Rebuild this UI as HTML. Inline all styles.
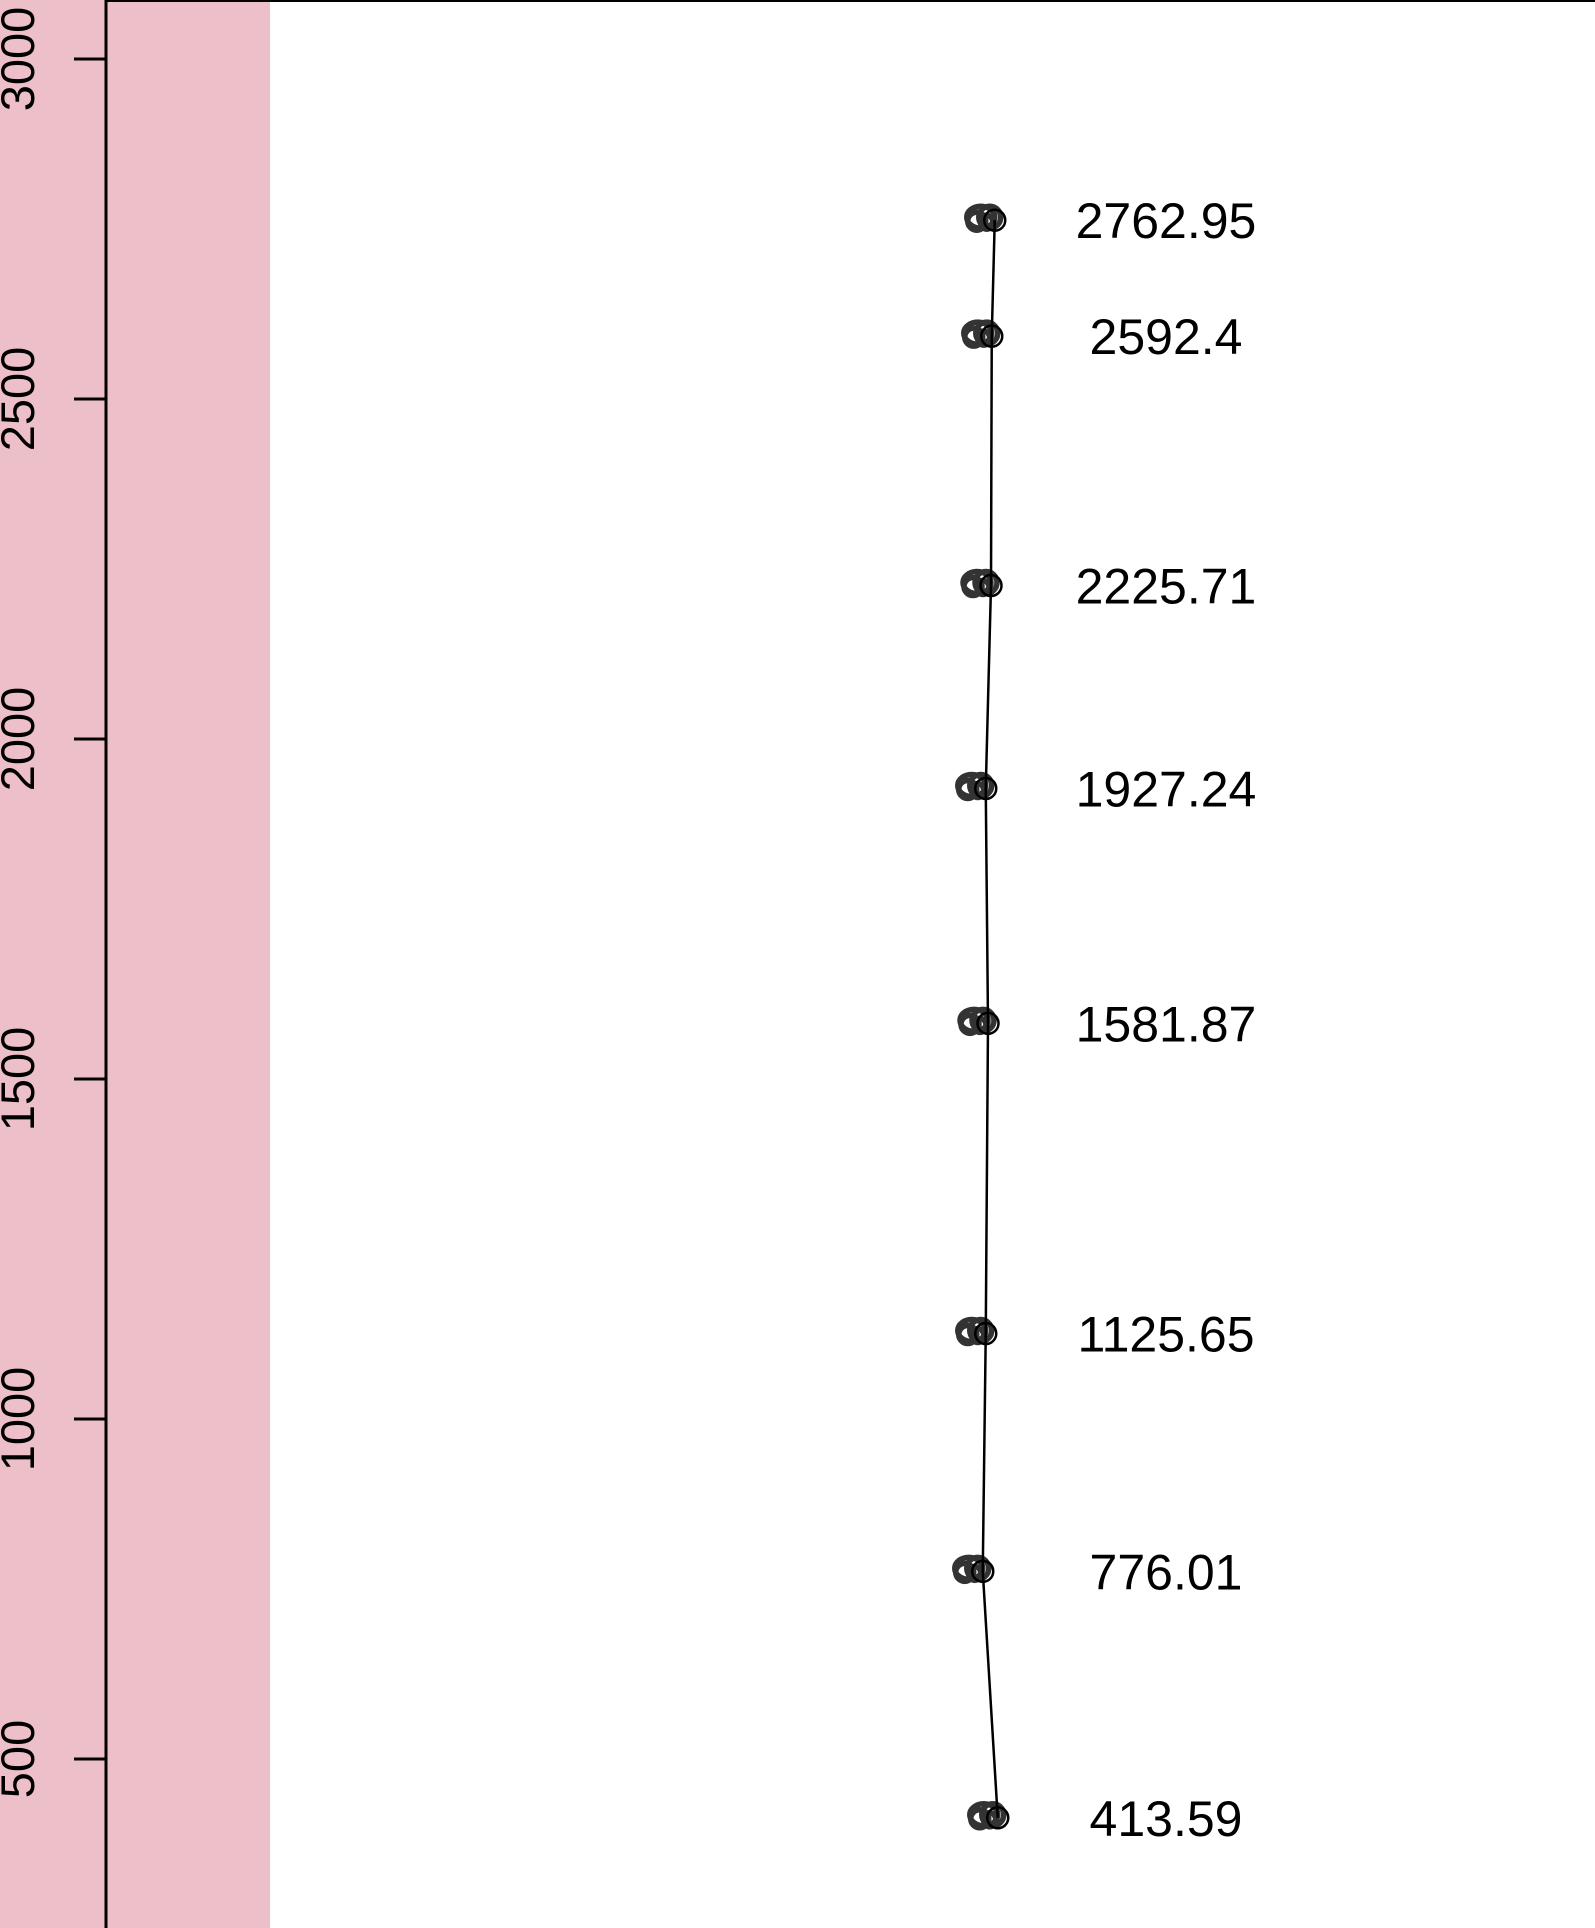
<!DOCTYPE html>
<html><head><meta charset="utf-8"><style>
html,body{margin:0;padding:0;background:#fff;}
svg{display:block;font-family:"Liberation Sans",Arial,sans-serif;}
</style></head><body>
<svg id="chart" width="1595" height="1928" viewBox="0 0 1595 1928">
  <rect x="0" y="0" width="270" height="1928" fill="#EDBFC9"/>
  <line x1="106" y1="1" x2="1595" y2="1" stroke="#000" stroke-width="2"/>
  <line x1="106" y1="0" x2="106" y2="1928" stroke="#000" stroke-width="3"/>
  <g id="yaxis"></g>
  <g id="blobs"></g>
  <path id="series-line" fill="none" stroke="#000" stroke-width="2.5"/>
  <g id="points"></g>
  <g id="labels"></g>
</svg>
<script>
const yValues = [2762.95, 2592.4, 2225.71, 1927.24, 1581.87, 1125.65, 776.01, 413.59];
const xValues = [59.25, 59.05, 59.0, 58.65, 58.8, 58.65, 58.45, 59.45];
const valueLabels = ["2762.95", "2592.4", "2225.71", "1927.24", "1581.87", "1125.65", "776.01", "413.59"];
const yTicks = [500, 1000, 1500, 2000, 2500, 3000];
const yTickLabels = ["500", "1000", "1500", "2000", "2500", "3000"];

const NS = "http://www.w3.org/2000/svg";
function yScale(v){ return 59 + (3000 - v) * 0.68; }
function xScale(v){ return 106 + v * 15.0; }

const yaxis = document.getElementById('yaxis');
yTicks.forEach((t, i) => {
  const y = yScale(t);
  const ln = document.createElementNS(NS, 'line');
  ln.setAttribute('x1', 74); ln.setAttribute('x2', 106);
  ln.setAttribute('y1', y); ln.setAttribute('y2', y);
  ln.setAttribute('stroke', '#000'); ln.setAttribute('stroke-width', 3);
  
  
  yaxis.appendChild(ln);
  const tx = document.createElementNS(NS, 'text');
  tx.setAttribute('x', 0); tx.setAttribute('y', 0);
  tx.setAttribute('transform', 'translate(34,' + y + ') rotate(-90)');
  tx.setAttribute('text-anchor', 'middle');
  tx.setAttribute('font-size', '47');
  tx.textContent = yTickLabels[i];
  
  
  yaxis.appendChild(tx);
});

const blobs = document.getElementById('blobs');
const pts = document.getElementById('points');
const labels = document.getElementById('labels');
let d = '';
yValues.forEach((v, i) => {
  const x = xScale(xValues[i]), y = yScale(v);
  d += (i ? 'L' : 'M') + x + ' ' + y + ' ';
  [[-14, -3, 14, 11], [-5, -3, 11, 11], [-18, 1, 9, 9], [-8, 2, 6, 7]].forEach(o => {
    const e = document.createElementNS(NS, 'ellipse');
    e.setAttribute('cx', x + o[0]); e.setAttribute('cy', y + o[1]);
    e.setAttribute('rx', o[2]); e.setAttribute('ry', o[3]);
    e.setAttribute('fill', 'none'); e.setAttribute('stroke', '#333');
    e.setAttribute('stroke-width', 5.5);
    
    
    blobs.appendChild(e);
  });
  const c = document.createElementNS(NS, 'circle');
  c.setAttribute('cx', x); c.setAttribute('cy', y); c.setAttribute('r', 10.5);
  c.setAttribute('fill', 'none'); c.setAttribute('stroke', '#000'); c.setAttribute('stroke-width', 2.5);
  
  
  pts.appendChild(c);
  const t = document.createElementNS(NS, 'text');
  t.setAttribute('x', 1166); t.setAttribute('y', y + 18);
  t.setAttribute('text-anchor', 'middle'); t.setAttribute('font-size', '50');
  t.textContent = valueLabels[i];
  
  
  labels.appendChild(t);
});
document.getElementById('series-line').setAttribute('d', d);
</script>
</body></html>
